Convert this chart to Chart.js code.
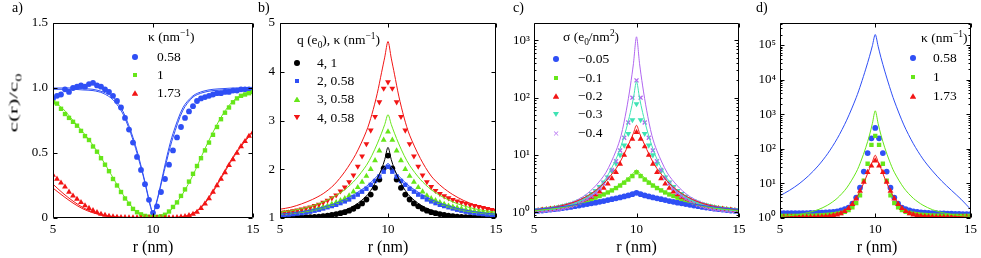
<!DOCTYPE html>
<html>
<head>
<meta charset="utf-8">
<script src="https://cdn.jsdelivr.net/npm/chart.js@4.4.1/dist/chart.umd.min.js"></script>
<style>
html, body { margin: 0; padding: 0; background: #fff; }
#wrap { position: relative; width: 981px; height: 258px; overflow: hidden; font-family: "Liberation Serif", "Times New Roman", serif; color: #000; }
#wrap canvas { position: absolute; left: 0; top: 0; }
.txt { position: absolute; white-space: nowrap; line-height: 1; }
.txt sub, .txt sup { font-size: 70%; line-height: 0; }
.mk { position: absolute; }
</style>
</head>
<body>
<div id="wrap">
  <canvas id="pa" width="981" height="258"></canvas>
  <canvas id="pb" width="981" height="258"></canvas>
  <canvas id="pc" width="981" height="258"></canvas>
  <canvas id="pd" width="981" height="258"></canvas>
</div>
<script>
// --- DATA ---
// marker grid (nm) and theory-curve grid (nm)
const rMk = [5,5.2,5.4,5.6,5.8,6,6.2,6.4,6.6,6.8,7,7.2,7.4,7.6,7.8,8,8.2,8.4,8.6,8.8,9,9.2,9.4,9.6,9.8,10,
  10.2,10.4,10.6,10.8,11,11.2,11.4,11.6,11.8,12,12.2,12.4,12.6,12.8,13,13.2,13.4,13.6,13.8,14,14.2,14.4,14.6,14.8,15];
const rFit = [5,5.5,6,6.5,7,7.5,8,8.5,9,9.25,9.5,9.7,9.85,10,10.15,10.3,10.5,10.75,11,11.5,12,12.5,13,13.5,14,14.5,15];

// a) c(r)/c0, kappa = 0.58, 1, 1.73
const aLabels = ['0.58', '1', '1.73'];
const aBlue = [0.92,0.94,0.95,0.99,0.97,1.0,1.01,1.02,1.01,1.03,1.04,1.02,1.01,0.99,0.97,0.94,0.9,0.85,0.77,0.68,0.58,0.47,0.37,0.26,0.14,0.04,
  0.09,0.2,0.3,0.41,0.52,0.62,0.7,0.77,0.82,0.86,0.9,0.92,0.93,0.94,0.95,0.96,0.96,0.97,0.97,0.98,0.98,0.99,0.99,0.99,0.99];
const aGreen = [0.89,0.88,0.84,0.8,0.77,0.74,0.71,0.67,0.63,0.6,0.55,0.51,0.46,0.41,0.36,0.3,0.25,0.2,0.15,0.11,0.07,0.045,0.028,0.016,0.01,0.007,
  0.008,0.013,0.025,0.05,0.085,0.12,0.17,0.22,0.28,0.34,0.4,0.46,0.52,0.58,0.64,0.7,0.76,0.81,0.85,0.89,0.92,0.94,0.95,0.96,0.97];
const aRed = [0.33,0.3,0.27,0.24,0.2,0.17,0.145,0.12,0.095,0.075,0.058,0.043,0.03,0.022,0.015,0.01,0.007,0.005,0.004,0.003,0.003,0.002,0.002,0.002,0.002,0.002,
  0.002,0.002,0.002,0.002,0.003,0.005,0.008,0.012,0.02,0.03,0.045,0.075,0.11,0.15,0.2,0.25,0.3,0.35,0.405,0.45,0.5,0.55,0.59,0.63,0.66];
const aBlueFit1 = [1.0,1.0,1.0,0.995,0.99,0.97,0.93,0.82,0.62,0.49,0.34,0.21,0.11,0.04,0.11,0.2,0.34,0.51,0.65,0.85,0.94,0.975,0.99,0.995,1.0,1.0,1.0];
const aBlueFit2 = [0.99,0.99,0.99,0.985,0.98,0.96,0.91,0.8,0.6,0.47,0.33,0.2,0.1,0.035,0.1,0.19,0.32,0.48,0.62,0.83,0.93,0.965,0.98,0.985,0.99,0.99,0.99];
const aGreenFit = [0.9,0.84,0.75,0.66,0.56,0.44,0.31,0.18,0.075,0.04,0.02,0.01,0.006,0.005,0.006,0.01,0.02,0.04,0.08,0.19,0.33,0.5,0.66,0.8,0.9,0.95,0.98];
const aRedFit1 = [0.26,0.19,0.13,0.08,0.045,0.022,0.01,0.004,0.002,0.001,0.001,0.001,0.001,0.001,0.001,0.001,0.001,0.001,0.002,0.01,0.035,0.1,0.21,0.34,0.47,0.58,0.67];
const aRedFit2 = [0.23,0.17,0.115,0.07,0.04,0.02,0.009,0.004,0.002,0.001,0.001,0.001,0.001,0.001,0.001,0.001,0.001,0.001,0.002,0.009,0.032,0.095,0.2,0.33,0.46,0.57,0.66];

// b) q (e0), kappa
const bLabels = ['4, 1', '2, 0.58', '3, 0.58', '4, 0.58'];
const bBlack = [1.0,1.0,1.0,1.005,1.01,1.01,1.015,1.02,1.025,1.03,1.04,1.05,1.065,1.08,1.1,1.12,1.15,1.19,1.24,1.3,1.38,1.48,1.62,1.79,2.02,2.28,
  2.02,1.79,1.62,1.48,1.38,1.3,1.24,1.19,1.15,1.12,1.1,1.08,1.065,1.05,1.04,1.03,1.025,1.02,1.015,1.01,1.01,1.005,1.0,1.0,1.0];
const bBlue = [1.06,1.065,1.07,1.08,1.09,1.1,1.115,1.13,1.15,1.17,1.195,1.22,1.245,1.27,1.305,1.34,1.38,1.43,1.48,1.54,1.6,1.68,1.76,1.85,1.95,2.05,
  1.95,1.85,1.76,1.68,1.6,1.54,1.48,1.43,1.38,1.34,1.305,1.27,1.245,1.22,1.195,1.17,1.15,1.13,1.115,1.1,1.09,1.08,1.07,1.065,1.06];
const bGreen = [1.1,1.105,1.11,1.12,1.13,1.14,1.155,1.17,1.19,1.21,1.23,1.25,1.285,1.32,1.36,1.4,1.46,1.54,1.63,1.74,1.86,2.0,2.18,2.38,2.6,2.77,
  2.6,2.38,2.18,2.0,1.86,1.74,1.63,1.54,1.46,1.4,1.36,1.32,1.285,1.25,1.23,1.21,1.19,1.17,1.155,1.14,1.13,1.12,1.11,1.105,1.1];
const bRed = [1.11,1.12,1.13,1.145,1.16,1.18,1.2,1.22,1.25,1.28,1.32,1.36,1.41,1.47,1.55,1.63,1.74,1.88,2.06,2.27,2.52,2.8,3.08,3.38,3.66,3.79,
  3.66,3.38,3.08,2.8,2.52,2.27,2.06,1.88,1.74,1.64,1.56,1.5,1.45,1.41,1.375,1.345,1.32,1.295,1.27,1.25,1.23,1.21,1.19,1.17,1.15];
const bBlackFit = [1.01,1.01,1.02,1.04,1.06,1.1,1.16,1.27,1.45,1.6,1.8,2.0,2.2,2.45,2.2,2.0,1.8,1.6,1.45,1.27,1.16,1.1,1.06,1.04,1.02,1.01,1.01];
const bBlueFit = [1.08,1.1,1.13,1.17,1.22,1.29,1.38,1.5,1.65,1.75,1.86,1.96,2.04,2.12,2.04,1.96,1.86,1.75,1.65,1.5,1.38,1.29,1.22,1.17,1.13,1.1,1.08];
const bGreenFit = [1.12,1.15,1.19,1.25,1.33,1.44,1.58,1.79,2.08,2.28,2.52,2.74,2.92,3.12,2.92,2.74,2.52,2.28,2.08,1.79,1.58,1.44,1.33,1.25,1.19,1.15,1.12];
const bRedFit = [1.18,1.22,1.29,1.38,1.5,1.68,1.95,2.3,2.78,3.12,3.55,3.98,4.3,4.62,4.28,3.95,3.5,3.05,2.7,2.22,1.86,1.64,1.48,1.36,1.27,1.2,1.15];

// c) sigma (e0/nm^2)
const cLabels = ['\u22120.05', '\u22120.1', '\u22120.2', '\u22120.3', '\u22120.4'];
const cBlue = [1.05,1.065,1.08,1.1,1.12,1.14,1.165,1.19,1.22,1.25,1.285,1.32,1.36,1.4,1.44,1.48,1.53,1.58,1.64,1.7,1.76,1.83,1.9,1.98,2.08,2.2,
  2.08,1.98,1.9,1.83,1.76,1.7,1.64,1.58,1.53,1.48,1.44,1.4,1.36,1.32,1.285,1.25,1.22,1.19,1.165,1.14,1.12,1.1,1.08,1.065,1.05];
const cGreen = [1.07,1.09,1.11,1.13,1.16,1.19,1.22,1.26,1.3,1.35,1.41,1.47,1.54,1.62,1.71,1.81,1.93,2.06,2.23,2.42,2.66,2.94,3.3,3.74,4.3,5.0,
  4.3,3.74,3.3,2.94,2.66,2.42,2.23,2.06,1.93,1.81,1.71,1.62,1.54,1.47,1.41,1.35,1.3,1.26,1.22,1.19,1.16,1.13,1.11,1.09,1.07];
const cRed = [1.08,1.09,1.11,1.13,1.15,1.18,1.21,1.25,1.3,1.35,1.41,1.49,1.59,1.71,1.86,2.05,2.3,2.65,3.15,3.9,5.0,7.0,10,14,19,25,
  19,14,10,7.0,5.0,3.9,3.15,2.65,2.3,2.05,1.86,1.71,1.59,1.49,1.41,1.35,1.3,1.25,1.21,1.18,1.15,1.13,1.11,1.09,1.08];
const cCyan = [1.08,1.1,1.12,1.14,1.16,1.19,1.23,1.28,1.34,1.4,1.49,1.59,1.72,1.89,2.12,2.4,2.8,3.35,4.1,5.3,7.1,10,14.8,23.6,41,78,
  41,23.6,14.8,10,7.1,5.3,4.1,3.35,2.8,2.4,2.12,1.89,1.72,1.59,1.49,1.4,1.34,1.28,1.23,1.19,1.16,1.14,1.12,1.1,1.08];
const cPurple = [1.05,1.06,1.07,1.085,1.1,1.12,1.15,1.19,1.23,1.29,1.36,1.45,1.57,1.72,1.93,2.2,2.6,3.2,4.0,5.5,7.8,12,20,37,100,200,
  100,37,20,12,7.8,5.5,4.0,3.2,2.6,2.2,1.93,1.72,1.57,1.45,1.36,1.29,1.23,1.19,1.15,1.12,1.1,1.085,1.07,1.06,1.05];
const cBlueFit = [1.13,1.17,1.22,1.28,1.36,1.45,1.56,1.69,1.85,1.95,2.06,2.16,2.25,2.35,2.25,2.16,2.06,1.95,1.85,1.69,1.56,1.45,1.36,1.28,1.22,1.17,1.13];
const cGreenFit = [1.08,1.12,1.17,1.24,1.34,1.5,1.75,2.15,2.75,3.2,3.75,4.3,4.85,5.5,4.85,4.3,3.75,3.2,2.75,2.15,1.75,1.5,1.34,1.24,1.17,1.12,1.08];
const cRedFit = [1.1,1.15,1.23,1.35,1.53,1.85,2.4,3.5,5.8,8.2,12.5,18,24,33,24,18,12.5,8.2,5.8,3.5,2.4,1.85,1.53,1.35,1.23,1.15,1.1];
const cCyanFit = [1.06,1.1,1.15,1.25,1.42,1.74,2.38,3.9,8.5,14.5,28.5,55,98,190,98,55,28.5,14.5,8.5,3.9,2.38,1.74,1.42,1.25,1.15,1.1,1.06];
const cPurpleFit = [1.12,1.17,1.24,1.36,1.58,2.0,2.9,4.9,11.8,22,59,160,390,1150,390,160,59,22,11.8,4.9,2.9,2.0,1.58,1.36,1.24,1.17,1.12];

// d) kappa = 0.58, 1, 1.73 (log scale)
const dLabels = ['0.58', '1', '1.73'];
const dBlue = [1.38,1.38,1.38,1.38,1.38,1.38,1.38,1.39,1.4,1.41,1.42,1.43,1.45,1.47,1.5,1.55,1.65,1.8,2.0,2.6,3.9,7.5,22,75,200,400,
  200,75,22,7.5,3.9,2.6,2.0,1.8,1.65,1.55,1.5,1.46,1.43,1.41,1.39,1.37,1.36,1.35,1.34,1.33,1.32,1.31,1.3,1.3,1.3];
const dGreen = [1.15,1.15,1.15,1.15,1.15,1.15,1.15,1.155,1.16,1.17,1.185,1.2,1.22,1.25,1.29,1.33,1.4,1.5,1.7,2.05,2.7,4.5,12,37,130,235,
  130,37,12,4.5,2.7,2.05,1.7,1.5,1.4,1.33,1.29,1.25,1.22,1.2,1.185,1.17,1.16,1.155,1.15,1.15,1.15,1.15,1.15,1.15,1.15];
const dRed = [1.07,1.07,1.07,1.07,1.07,1.07,1.07,1.07,1.08,1.08,1.09,1.1,1.12,1.14,1.18,1.24,1.35,1.55,1.9,2.5,3.6,6.0,11,21,32,45,
  32,21,11,6.0,3.6,2.5,1.9,1.55,1.35,1.24,1.18,1.14,1.12,1.1,1.09,1.08,1.08,1.07,1.07,1.07,1.07,1.07,1.07,1.07,1.07];
const dBlueFit = [4.4,6.3,9.7,16.6,32,72,195,670,3000,7400,20000,47000,95000,200000,92000,43000,17500,6200,2400,490,140,51,23,11.5,6.3,3.5,1.8];
const dGreenFit = [1.11,1.17,1.27,1.44,1.74,2.35,3.7,7.4,21,44,107,250,540,1250,540,250,107,44,21,7.4,3.7,2.35,1.74,1.44,1.27,1.17,1.11];
const dRedFit = [1.05,1.05,1.06,1.08,1.11,1.18,1.35,1.85,3.8,6.8,14,27,42,65,42,27,14,6.8,3.8,1.85,1.35,1.18,1.11,1.08,1.06,1.05,1.05];

// tick values
const xTicks = [5, 10, 15];
const cLogTicks = [1, 10, 100, 1000];
const dLogTicks = [1, 10, 100, 1000, 10000, 100000];

// --- STYLE ---
const FONT = '"Liberation Serif", "Times New Roman", serif';
const BLUE = '#2f4ff5', GREEN = '#66e619', RED = '#f21515', CYAN = '#3fe3b4', PURPLE = '#b066f0', BLACK = '#000000';
const SUP = ['\u2070', '\u00b9', '\u00b2', '\u00b3', '\u2074', '\u2075'];
const tickFont = { family: FONT, size: 13 };

// box around the axes with inward ticks on all four sides (MATLAB look)
const frame = {
    id: 'frame',
    afterDraw(chart) {
        const { ctx, chartArea: a, scales: { x, y } } = chart;
        const L = Math.round(a.left) + 0.5, R = Math.round(a.right) - 0.5;
        const T = Math.round(a.top) + 0.5, B = Math.round(a.bottom) - 0.5;
        ctx.save();
        ctx.strokeStyle = '#000';
        ctx.lineWidth = 1;
        ctx.beginPath();
        ctx.rect(L, T, R - L, B - T);
        x.ticks.forEach(t => {
            const p = Math.round(x.getPixelForValue(t.value)) + 0.5;
            ctx.moveTo(p, B); ctx.lineTo(p, B - 4);
            ctx.moveTo(p, T); ctx.lineTo(p, T + 4);
        });
        y.ticks.forEach(t => {
            const p = Math.round(y.getPixelForValue(t.value)) + 0.5;
            ctx.moveTo(L, p); ctx.lineTo(L + 4, p);
            ctx.moveTo(R, p); ctx.lineTo(R - 4, p);
        });
        if (y.type === 'logarithmic') {
            for (let e = -1; e < 6; e++) {
                for (let k = 2; k < 10; k++) {
                    const v = k * Math.pow(10, e);
                    if (v <= y.min || v >= y.max) continue;
                    const p = Math.round(y.getPixelForValue(v)) + 0.5;
                    ctx.moveTo(L, p); ctx.lineTo(L + 2, p);
                    ctx.moveTo(R, p); ctx.lineTo(R - 2, p);
                }
            }
        }
        ctx.stroke();
        ctx.restore();
    }
};

function toDataset(s, i) {
    const data = s.x.map((x, k) => ({ x: x, y: s.y[k] }));
    if (s.line) {
        return { data, showLine: true, borderColor: s.color, borderWidth: 1, pointRadius: 0, tension: 0.3, order: 0 };
    }
    return {
        data, showLine: false,
        pointStyle: s.style, pointRadius: s.r, pointRotation: s.rot || 0,
        pointBackgroundColor: s.color, pointBorderColor: s.color,
        pointBorderWidth: s.style === 'crossRot' ? 1.3 : 0,
        order: 20 - i
    };
}

function makePanel(id, area, yScale, series) {
    const yw = 45, xh = 20;
    new Chart(document.getElementById(id), {
        type: 'scatter',
        data: { datasets: series.map(toDataset) },
        options: {
            responsive: false,
            animation: false,
            devicePixelRatio: 1,
            layout: { padding: { left: area.left - yw, right: 981 - area.right, top: area.top, bottom: 258 - area.bottom - xh } },
            plugins: { legend: { display: false }, tooltip: { enabled: false } },
            scales: {
                x: {
                    type: 'linear', min: 5, max: 15,
                    afterBuildTicks: s => { s.ticks = xTicks.map(v => ({ value: v })); },
                    afterFit: s => { s.height = xh; },
                    grid: { display: false, drawTicks: false },
                    border: { display: false },
                    ticks: { font: tickFont, color: '#000', padding: 4, maxRotation: 0 }
                },
                y: Object.assign({
                    afterFit: s => { s.width = yw; },
                    grid: { display: false, drawTicks: false },
                    border: { display: false }
                }, yScale)
            }
        },
        plugins: [frame]
    });
}

const areaA = { left: 53, right: 253, top: 23, bottom: 218 };
const areaB = { left: 280, right: 496, top: 23, bottom: 218 };
const areaC = { left: 534, right: 739, top: 23, bottom: 218 };
const areaD = { left: 780, right: 974, top: 23, bottom: 218 };

const linY = (min, max, step) => ({
    type: 'linear', min, max,
    ticks: { stepSize: step, font: tickFont, color: '#000', padding: 5 }
});
const logY = (min, max, tv) => ({
    type: 'logarithmic', min, max,
    afterBuildTicks: s => { s.ticks = tv.map(v => ({ value: v })); },
    ticks: { font: tickFont, color: '#000', padding: 4, callback: v => '10' + SUP[Math.round(Math.log10(v))] }
});

const CIRC = 2.9, SQ = 3.1, TRI = 3.4;

makePanel('pa', areaA, linY(0, 1.5, 0.5), [
    { x: rFit, y: aBlueFit1, color: BLUE, line: true },
    { x: rFit, y: aBlueFit2, color: BLUE, line: true },
    { x: rFit, y: aGreenFit, color: GREEN, line: true },
    { x: rFit, y: aRedFit1, color: RED, line: true },
    { x: rFit, y: aRedFit2, color: RED, line: true },
    { x: rMk, y: aBlue, color: BLUE, style: 'circle', r: CIRC },
    { x: rMk, y: aGreen, color: GREEN, style: 'rect', r: SQ },
    { x: rMk, y: aRed, color: RED, style: 'triangle', r: TRI }
]);

makePanel('pb', areaB, linY(1, 5, 1), [
    { x: rFit, y: bBlackFit, color: BLACK, line: true },
    { x: rFit, y: bBlueFit, color: BLUE, line: true },
    { x: rFit, y: bGreenFit, color: GREEN, line: true },
    { x: rFit, y: bRedFit, color: RED, line: true },
    { x: rMk, y: bBlack, color: BLACK, style: 'circle', r: CIRC },
    { x: rMk, y: bBlue, color: BLUE, style: 'rect', r: SQ },
    { x: rMk, y: bGreen, color: GREEN, style: 'triangle', r: TRI },
    { x: rMk, y: bRed, color: RED, style: 'triangle', r: TRI, rot: 180 }
]);

makePanel('pc', areaC, logY(0.8, 2000, cLogTicks), [
    { x: rFit, y: cBlueFit, color: BLUE, line: true },
    { x: rFit, y: cGreenFit, color: GREEN, line: true },
    { x: rFit, y: cRedFit, color: RED, line: true },
    { x: rFit, y: cCyanFit, color: CYAN, line: true },
    { x: rFit, y: cPurpleFit, color: PURPLE, line: true },
    { x: rMk, y: cBlue, color: BLUE, style: 'circle', r: CIRC },
    { x: rMk, y: cGreen, color: GREEN, style: 'rect', r: SQ },
    { x: rMk, y: cRed, color: RED, style: 'triangle', r: TRI },
    { x: rMk, y: cCyan, color: CYAN, style: 'triangle', r: TRI, rot: 180 },
    { x: rMk, y: cPurple, color: PURPLE, style: 'crossRot', r: 2.8 }
]);

makePanel('pd', areaD, logY(1, 430000, dLogTicks), [
    { x: rFit, y: dBlueFit, color: BLUE, line: true },
    { x: rFit, y: dGreenFit, color: GREEN, line: true },
    { x: rFit, y: dRedFit, color: RED, line: true },
    { x: rMk, y: dBlue, color: BLUE, style: 'circle', r: CIRC },
    { x: rMk, y: dGreen, color: GREEN, style: 'rect', r: SQ },
    { x: rMk, y: dRed, color: RED, style: 'triangle', r: TRI }
]);

// --- TEXT OVERLAY (titles, panel letters, legends) ---
const wrap = document.getElementById('wrap');

function addText(html, x, y, size, centerX, extra) {
    const el = document.createElement('div');
    el.className = 'txt';
    el.innerHTML = html;
    el.style.left = x + 'px';
    el.style.top = y + 'px';
    el.style.fontSize = size + 'px';
    el.style.transform = 'translate(' + (centerX ? '-50%' : '0') + ',-50%)' + (extra || '');
    wrap.appendChild(el);
}

function addMark(style, color, cx, cy) {
    const el = document.createElement('div');
    el.className = 'mk';
    let w = 5.8, h = 5.8;
    if (style === 'circle') { el.style.borderRadius = '50%'; }
    if (style === 'rect') { w = h = 4.4; }
    if (style === 'triangle') { w = 6.6; h = 5.6; el.style.clipPath = 'polygon(50% 0, 100% 100%, 0 100%)'; }
    if (style === 'triangleDown') { w = 6.6; h = 5.6; el.style.clipPath = 'polygon(0 0, 100% 0, 50% 100%)'; }
    if (style === 'cross') {
        el.className = 'txt';
        el.textContent = '\u00d7';
        el.style.color = color;
        el.style.fontSize = '11px';
        el.style.left = cx + 'px';
        el.style.top = cy + 'px';
        el.style.transform = 'translate(-50%,-50%)';
        wrap.appendChild(el);
        return;
    }
    el.style.background = color;
    el.style.width = w + 'px';
    el.style.height = h + 'px';
    el.style.left = (cx - w / 2) + 'px';
    el.style.top = (cy - h / 2) + 'px';
    wrap.appendChild(el);
}

addText('a)', 12, 8, 14);
addText('b)', 258, 8, 14);
addText('c)', 513, 8, 14);
addText('d)', 756, 8, 14);

addText('r (nm)', (areaA.left + areaA.right) / 2, 247, 16, true);
addText('r (nm)', (areaB.left + areaB.right) / 2, 247, 16, true);
addText('r (nm)', (areaC.left + areaC.right) / 2, 247, 16, true);
addText('r (nm)', (areaD.left + areaD.right) / 2, 247, 16, true);
// the y label of the source figure is drawn stretched along its length
addText('c(r)/c<sub>0</sub>', 13, 103, 13, true, ' rotate(-90deg) scaleX(1.8)');

const legends = [
    { hx: 148, hy: 37, head: '\u03ba (nm<sup>\u22121</sup>)', mx: 135, tx: 157, rows: [57, 75, 93], labels: aLabels,
      marks: [['circle', BLUE], ['rect', GREEN], ['triangle', RED]] },
    { hx: 297, hy: 40, head: 'q (e<sub>0</sub>), \u03ba (nm<sup>\u22121</sup>)', mx: 297, tx: 317, rows: [62.7, 81, 99.3, 117.5], labels: bLabels,
      marks: [['circle', BLACK], ['rect', BLUE], ['triangle', GREEN], ['triangleDown', RED]] },
    { hx: 563, hy: 37, head: '\u03c3 (e<sub>0</sub>/nm<sup>2</sup>)', mx: 556, tx: 578, rows: [59.3, 77.7, 96, 114.3, 132.7], labels: cLabels,
      marks: [['circle', BLUE], ['rect', GREEN], ['triangle', RED], ['triangleDown', CYAN], ['cross', PURPLE]] },
    { hx: 921, hy: 37.5, head: '\u03ba (nm<sup>\u22121</sup>)', mx: 913, tx: 933, rows: [58.3, 77.3, 96], labels: dLabels,
      marks: [['circle', BLUE], ['rect', GREEN], ['triangle', RED]] }
];

legends.forEach(lg => {
    addText(lg.head, lg.hx, lg.hy, 13.5);
    lg.labels.forEach((lab, i) => {
        addMark(lg.marks[i][0], lg.marks[i][1], lg.mx, lg.rows[i]);
        addText(lab, lg.tx, lg.rows[i], 13.5);
    });
});
</script>
</body>
</html>
